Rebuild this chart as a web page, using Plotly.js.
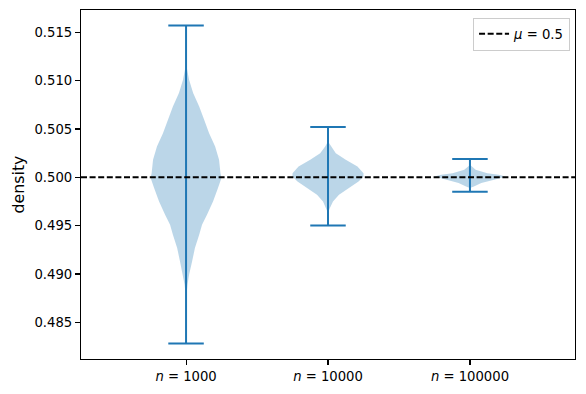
<!DOCTYPE html>
<html>
<head>
<meta charset="utf-8">
<script src="https://cdn.plot.ly/plotly-3.0.1.min.js"></script>
<style>html,body{margin:0;padding:0;background:#fff}#chart{width:586px;height:394px}</style>
</head>
<body>
<div id="chart"></div>
<script>
// ---- data ----
const categories = ['<i>n</i> = 1000', '<i>n</i> = 10000', '<i>n</i> = 100000'];
const positions = [1, 2, 3];
const mins = [0.4828, 0.4950, 0.4985];
const maxs = [0.5157, 0.5052, 0.5019];
const mu = 0.5;

// violin density profiles (value, relative density 0..1)
const v1Y = [0.4828, 0.4868, 0.48785, 0.48888, 0.48991, 0.49129, 0.49268, 0.49405, 0.49509, 0.49612, 0.4975, 0.49888, 0.49995, 0.50043, 0.50181, 0.50319, 0.50457, 0.50595, 0.50732, 0.50871, 0.51009, 0.51146, 0.51236, 0.5157];
const v1D = [0, 0, 0.014, 0.04, 0.085, 0.17, 0.25, 0.37, 0.45, 0.59, 0.76, 0.90, 1.0, 0.97, 0.93, 0.82, 0.65, 0.51, 0.37, 0.20, 0.085, 0.014, 0, 0];
const v2Y = [0.4950, 0.4963, 0.49681, 0.4975, 0.49819, 0.49888, 0.49957, 0.50008, 0.50043, 0.50112, 0.50181, 0.5025, 0.50319, 0.5037, 0.5052];
const v2D = [0, 0, 0.05, 0.14, 0.31, 0.58, 0.86, 1.0, 1.0, 0.83, 0.50, 0.22, 0.08, 0, 0];
const v3Y = [0.4985, 0.49888, 0.49905, 0.4994, 0.49974, 0.50008, 0.50026, 0.50043, 0.50078, 0.50112, 0.50129, 0.5019];
const v3D = [0, 0, 0.11, 0.32, 0.68, 1.0, 0.81, 0.49, 0.16, 0.05, 0, 0];

const profilesY = [v1Y, v2Y, v3Y];
const profilesD = [v1D, v2D, v3D];

// ---- styling ----
const C0 = '#1f77b4';
const halfWidth = 0.25;   // matplotlib widths=0.5
const capHalf = 0.125;
const FONT = 'DejaVu Sans, sans-serif';

const traces = [];
positions.forEach((p, i) => {
  const ys = profilesY[i], ds = profilesD[i];
  const xs = ds.map(d => p + halfWidth * d);
  const xsL = ds.map(d => p - halfWidth * d).reverse();
  traces.push({
    type: 'scatter', mode: 'lines',
    x: xs.concat(xsL), y: ys.concat(ys.slice().reverse()),
    fill: 'toself', fillcolor: 'rgba(31,119,180,0.3)',
    line: {width: 0, color: 'rgba(0,0,0,0)'},
    hoverinfo: 'skip', showlegend: false
  });
});
// vertical bars and caps
positions.forEach((p, i) => {
  traces.push({
    type: 'scatter', mode: 'lines',
    x: [p, p, null, p - capHalf, p + capHalf, null, p - capHalf, p + capHalf],
    y: [mins[i], maxs[i], null, maxs[i], maxs[i], null, mins[i], mins[i]],
    line: {color: C0, width: 2},
    hoverinfo: 'skip', showlegend: false
  });
});
// mu line
traces.push({
  type: 'scatter', mode: 'lines',
  x: [0.26, 3.74], y: [mu, mu],
  line: {color: '#000', width: 2, dash: '6px,2.6px'},
  name: '<i>μ</i> = 0.5', showlegend: true, hoverinfo: 'skip'
});

const layout = {
  width: 586, height: 394,
  margin: {l: 81, r: 11, t: 10, b: 35},
  paper_bgcolor: '#fff', plot_bgcolor: '#fff',
  font: {family: FONT, size: 13.2, color: '#000'},
  showlegend: true,
  legend: {
    x: 0.99, xanchor: 'right', y: 0.978, yanchor: 'top',
    bgcolor: '#fff', bordercolor: '#cccccc', borderwidth: 1,
    font: {family: FONT, size: 13.2, color: '#000'}
  },
  xaxis: {
    range: [0.26, 3.74], tickmode: 'array', tickvals: positions, ticktext: categories,
    showgrid: false, zeroline: false, showline: true, linecolor: '#000', linewidth: 1.1,
    mirror: true, ticks: 'outside', ticklen: 5, tickwidth: 1.1, tickcolor: '#000',
    tickfont: {family: FONT, size: 13.2, color: '#000'}
  },
  yaxis: {
    range: [0.48120, 0.51731], tickmode: 'linear', tick0: 0.485, dtick: 0.005, tickformat: '.3f',
    showgrid: false, zeroline: false, showline: true, linecolor: '#000', linewidth: 1.1,
    mirror: true, ticks: 'outside', ticklen: 5, tickwidth: 1.1, tickcolor: '#000',
    tickfont: {family: FONT, size: 13.2, color: '#000'},
    title: {text: 'density', font: {family: FONT, size: 15.8, color: '#000'}, standoff: 6}
  }
};

Plotly.newPlot('chart', traces, layout, {displayModeBar: false, staticPlot: true});
</script>
</body>
</html>
